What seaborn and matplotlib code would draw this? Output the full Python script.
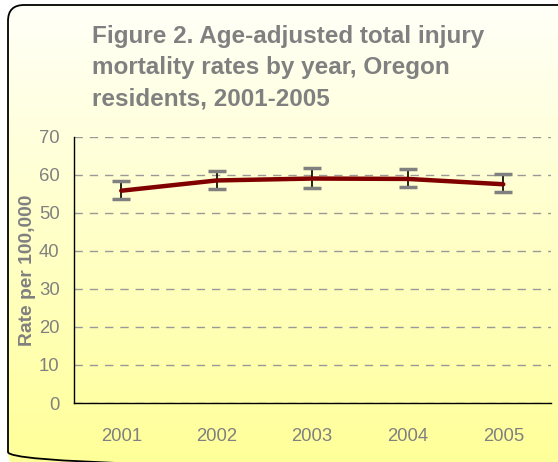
import numpy as np
import pandas as pd
import matplotlib
matplotlib.use('Agg')
import matplotlib.pyplot as plt
import seaborn as sns
from matplotlib.patches import FancyBboxPatch

# Data
years = ['2001', '2002', '2003', '2004', '2005']
rates = [55.8, 58.5, 59.0, 58.9, 57.5]
ci_low = [53.5, 56.3, 56.6, 56.7, 55.4]
ci_high = [58.3, 61.1, 61.7, 61.4, 60.3]

df = pd.DataFrame({'Year': years, 'Rate': rates, 'Low': ci_low, 'High': ci_high})
df['pos'] = np.arange(len(df))

sns.set_style('white')
plt.rcParams['font.family'] = ['Liberation Sans', 'DejaVu Sans']
gray = '#808080'

W, H = 558, 462
fig = plt.figure(figsize=(W / 100, H / 100), dpi=100)
fig.patch.set_facecolor('white')

# Background panel: rounded box with white-to-yellow gradient
bg = fig.add_axes([0, 0, 1, 1])
bg.set_xlim(0, W)
bg.set_ylim(H, 0)
bg.axis('off')
grad = np.linspace(0, 1, 256).reshape(-1, 1)
cmap = matplotlib.colors.LinearSegmentedColormap.from_list('bgy', ['#FFFFF8', '#FFFF99'])
box = FancyBboxPatch((8, 5), W + 20, 463, boxstyle='round,pad=0,rounding_size=16',
                     facecolor='none', edgecolor='black', linewidth=1.3)
bg.add_patch(box)
img = bg.imshow(grad, cmap=cmap, aspect='auto', extent=(8, W, H, 5), zorder=0)
img.set_clip_path(box)

fig.text(92.5 / W, 1 - 25 / H, 'Figure 2. Age-adjusted total injury\nmortality rates by year, Oregon\nresidents, 2001-2005',
         ha='left', va='top', fontsize=17.5, fontweight='bold', color=gray, linespacing=1.45)

ax = fig.add_axes([73.5 / W, 1 - 403 / H, (551 - 73.5) / W, (403 - 136.7) / H])
ax.set_facecolor('none')

ax.errorbar(df['pos'], df['Rate'],
            yerr=[df['Rate'] - df['Low'], df['High'] - df['Rate']],
            fmt='none', ecolor='black', elinewidth=1.2, capsize=0, zorder=3)
ax.errorbar(df['pos'], df['Rate'],
            yerr=[df['Rate'] - df['Low'], df['High'] - df['Rate']],
            fmt='none', ecolor=gray, elinewidth=0, capsize=6.5, capthick=2.5, zorder=3)
sns.lineplot(data=df, x='pos', y='Rate', ax=ax, color='#800000', linewidth=3.2, zorder=4)

ax.set_xlim(-0.5, 4.5)
ax.set_ylim(0, 70)
ax.set_yticks(range(0, 71, 10))
ax.set_xticks(np.arange(-0.5, 4.6, 1))
ax.set_xticklabels([])
ax.set_xticks(df['pos'], minor=True)
ax.set_xticklabels(years, minor=True)
ax.tick_params(axis='x', which='minor', length=0, pad=18, labelsize=13.3, labelcolor=gray)
ax.tick_params(axis='x', which='major', direction='inout', length=12, width=1, color='black')
ax.tick_params(axis='y', direction='inout', length=12, width=1, color='black',
               labelsize=13.3, labelcolor=gray, pad=4)
ax.yaxis.grid(True, linestyle=(0, (6, 5)), color='#999999', linewidth=1)
ax.set_axisbelow(True)
for s in ['top', 'right']:
    ax.spines[s].set_visible(False)
for s in ['left', 'bottom']:
    ax.spines[s].set_color('black')
    ax.spines[s].set_linewidth(1)
ax.set_xlabel('')
ax.set_ylabel('Rate per 100,000', fontsize=13.9, fontweight='bold', color=gray, labelpad=2)

fig.savefig('out.png', dpi=100)
